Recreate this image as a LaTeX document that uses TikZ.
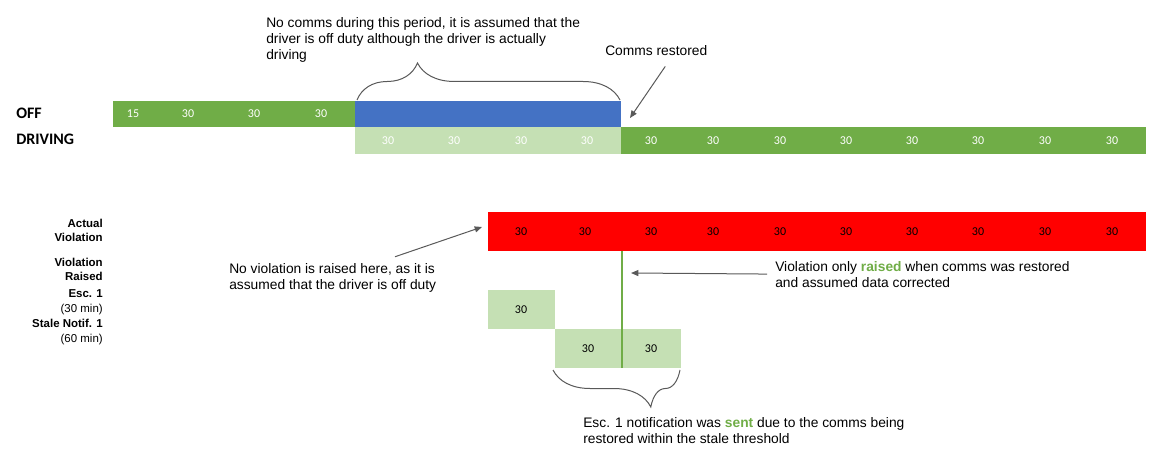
\documentclass[tikz,border=0pt]{standalone}
\usepackage{fontspec}
\setmainfont{Liberation Sans}
\newfontfamily\numfont{Carlito}
\usetikzlibrary{arrows.meta, decorations.pathreplacing}
\definecolor{offgreen}{HTML}{70AD47}
\definecolor{dutyblue}{HTML}{4472C4}
\definecolor{lightgreen}{HTML}{C5E0B4}
\definecolor{violred}{HTML}{FF0000}
\definecolor{arrgray}{HTML}{595959}
\newcommand{\hl}[1]{\textcolor{offgreen}{\bfseries #1}}
\tikzset{
  rowlab/.style    = {anchor=base west, inner sep=0, font=\numfont\bfseries\fontsize{12}{14}\selectfont},
  sidelab/.style   = {anchor=base east, inner sep=0, align=right, font=\bfseries\fontsize{8.6}{10.9}\selectfont},
  cell/.style      = {inner sep=0, font=\numfont\fontsize{9}{11}\selectfont},
  whitecell/.style = {cell, text=white},
  note/.style      = {anchor=base west, inner sep=0, align=left, font=\fontsize{10.35}{12}\selectfont},
  arr/.style       = {-{Triangle[length=5.5pt, width=4.5pt]}, draw=arrgray, line width=0.75pt},
  brc/.style       = {draw=arrgray, line width=0.75pt, decorate,
                      decoration={brace, amplitude=27.75pt, aspect=0.23}}
}

\begin{document}
\begin{tikzpicture}[x=0.75pt, y=-0.75pt]
  \useasboundingbox (0,0) rectangle (1162,466);
  % duty status rows
  \node[rowlab] (off) at (16,119) {OFF};
  \node[rowlab] (drv) at (16,145) {DRIVING};
  \fill[offgreen]   (113,101)   rectangle (355,127.5);
  \fill[dutyblue]   (355,101)   rectangle (621,127.5);
  \fill[lightgreen] (355,127.5) rectangle (621,154);
  \fill[offgreen]   (621,127.5) rectangle (1146,154);
  \node[whitecell] (off15) at (133,114) {15};
  \foreach \x in {188,254,321}
    \node[whitecell] (off\x) at (\x,114) {30};
  \foreach \x in {388,454,521,587,651,713,780,846,912,978,1045,1112}
    \node[whitecell] (drv\x) at (\x,141) {30};

  % gap in comms
  \draw[brc] (357,100) -- (620,100);
  \node[note] (gap) at (266,60) {No comms during this period, it is assumed that the\\driver is off duty although the driver is actually\\driving};
  \node[note] (comms) at (605,56) {Comms restored};
  \coordinate (cr) at (630,118);
  \draw[arr] ([xshift=6.75pt, yshift=-7.5pt]comms.south) -- (cr);

  % violation rows
  \node[sidelab] (actual) at (103,242) {Actual\\Violation};
  \node[sidelab] (raised) at (103,281) {Violation\\Raised};
  \node[sidelab] (esc)    at (103,312) {Esc. 1\\\mdseries(30 min)};
  \node[sidelab] (stale)  at (103,342) {Stale Notif. 1\\\mdseries(60 min)};
  \fill[violred] (488,212) rectangle (1146,251);
  \foreach \x in {521,585,651,713,780,846,912,978,1045,1112}
    \node[cell] (act\x) at (\x,232) {30};
  \fill[lightgreen] (488,290) rectangle (555,329);
  \fill[lightgreen] (555,329) rectangle (681,368);
  \node[cell] (esc30)   at (521,310) {30};
  \node[cell] (stale30) at (588,349) {30};
  \node[cell] (stale60) at (651,349) {30};
  \draw[offgreen, line width=1.5pt] (621.5,251) -- (621.5,368);

  % notes
  \node[note] (noviol) at (229,290) {No violation is raised here, as it is\\assumed that the driver is off duty};
  \coordinate (av) at (482,227);
  \draw[arr] ([xshift=-31pt, yshift=5.25pt]noviol.north east) -- (av);
  \node[note] (onlyraised) at (775,287) {Violation only \hl{raised} when comms was restored\\and assumed data corrected};
  \coordinate (vr) at (631,273);
  \draw[arr] ([xshift=-6pt]onlyraised.west) -- (vr);
  \draw[brc] (680,370) -- (553,370);
  \node[note] (sent) at (583,443) {Esc. 1 notification was \hl{sent} due to the comms being\\restored within the stale threshold};
\end{tikzpicture}
\end{document}
